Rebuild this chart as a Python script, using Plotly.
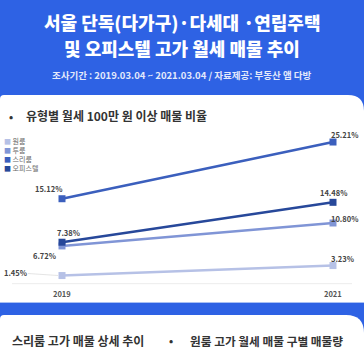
import plotly.graph_objects as go

W = H = 364
FONT = "Noto Sans CJK KR"

# ---- data ----
years = [2019, 2021]
series_names = ["원룸", "투룸", "스리룸", "오피스텔"]
oneroom = [1.45, 3.23]
tworoom = [6.72, 10.80]
threeroom = [15.12, 25.21]
officetel = [7.38, 14.48]
year_labels = ["2019", "2021"]

title1 = "서울 단독(다가구)·다세대 ·연립주택"
title2 = "및 오피스텔 고가 월세 매물 추이"
subtitle = "조사기간 : 2019.03.04 ~ 2021.03.04 / 자료제공: 부동산 앱 다방"
section = "유형별 월세 100만 원 이상 매물 비율"
bottom_left = "스리룸 고가 매물 상세 추이"
bottom_right = "원룸 고가 월세 매물 구별 매물량"

values = [oneroom, tworoom, threeroom, officetel]
colors = ["#b6c1e6", "#8095d6", "#3b5fbd", "#27489a"]
BLUE = "#2e62e4"

# label offsets (px) per series, per point: (xshift, yshift)
offsets = [
    [(-47, 3), (9, 7)],
    [(-18, -10), (11, 5)],
    [(-14, 10), (11, 8)],
    [(6, 10), (0, 10)],
]

# axis geometry
x_px0, x_scale = 62, 135.5
y_px0, y_scale = 283.7, 5.62
xr = [2019 - x_px0 / x_scale, 2019 + (W - x_px0) / x_scale]
yr = [-(H - y_px0) / y_scale, y_px0 / y_scale]


def P(px, py):
    return px / W, 1 - py / H


fig = go.Figure()
for name, vals, col in zip(series_names, values, colors):
    fig.add_trace(go.Scatter(
        x=years, y=vals, mode="lines+markers", name=name,
        line=dict(color=col, width=2.6),
        marker=dict(symbol="square", size=7, color=col),
        showlegend=False, hoverinfo="skip",
    ))

annotations = []


def txt(px, py, text, size, color, xanchor="center", weight="bold"):
    x, y = P(px, py)
    annotations.append(dict(x=x, y=y, xref="paper", yref="paper", text=text,
                            showarrow=False, xanchor=xanchor, yanchor="middle",
                            font=dict(family=FONT, size=size, color=color, weight=weight)))


for vals, col, offs in zip(values, colors, offsets):
    for xv, yv, (dx, dy) in zip(years, vals, offs):
        annotations.append(dict(
            x=xv, y=yv, xref="x", yref="y", text=f"{yv:.2f}%",
            showarrow=False, xshift=dx, yshift=dy, xanchor="center", yanchor="middle",
            font=dict(family=FONT, size=7.5, color="#444444", weight="bold"),
        ))

for yv, lab in zip(years, year_labels):
    annotations.append(dict(
        x=yv, y=-9.3 / y_scale, xref="x", yref="y", text=lab,
        showarrow=False, xanchor="center", yanchor="middle",
        font=dict(family=FONT, size=7.5, color="#555555", weight="bold"),
    ))

# titles
txt(W / 2, 22, title1, 18, "white", weight=900)
txt(W / 2, 48, title2, 18, "white", weight=900)
txt(W / 2, 75, subtitle, 9.5, "#e3e9fb", weight="bold")

txt(7, 116, "•", 11, "#333333", "left")
txt(24, 116, section, 12, "#333333", "left")

# legend
for i, (name, col) in enumerate(zip(series_names, colors)):
    txt(2, 141 + i * 9, f"<span style='color:{col}'>■</span> {name}", 7, "#666666",
        "left", weight="normal")

# bottom texts
txt(10, 340, bottom_left, 12, "#333333", "left")
txt(171, 340, "•", 11, "#333333")
txt(188, 340, bottom_right, 11.7, "#333333", "left")


def path_card(top, bottom, r_right, r_left):
    x0, x1 = 0, W

    def q(px, py):
        a, b = P(px, py)
        return f"{a:.5f},{b:.5f}"
    d = (f"M {q(x0, bottom)} L {q(x0, top + r_left)} Q {q(x0, top)} {q(x0 + r_left, top)} "
         f"L {q(x1 - r_right, top)} Q {q(x1, top)} {q(x1, top + r_right)} L {q(x1, bottom)} Z")
    return d


shapes = [
    dict(type="rect", xref="paper", yref="paper", x0=0, x1=1, y0=0, y1=1,
         fillcolor=BLUE, line=dict(width=0), layer="below"),
    dict(type="path", xref="paper", yref="paper", path=path_card(95, 302, 16, 4),
         fillcolor="white", line=dict(width=0), layer="below"),
    dict(type="path", xref="paper", yref="paper", path=path_card(315, H + 2, 18, 4),
         fillcolor="white", line=dict(width=0), layer="below"),
    dict(type="line", xref="paper", yref="paper",
         x0=0, x1=1, y0=P(0, 302.5)[1], y1=P(0, 302.5)[1],
         line=dict(color="#a9c0f4", width=1.2), layer="below"),
    # baseline
    dict(type="line", xref="paper", yref="y", x0=12 / W, x1=352 / W, y0=0, y1=0,
         line=dict(color="#ececec", width=1), layer="below"),
    # leader line for 1.45% label
    dict(type="line", xref="paper", yref="paper",
         x0=P(28, 273.5)[0], y0=P(28, 273.5)[1], x1=P(58, 275.5)[0], y1=P(58, 275.5)[1],
         line=dict(color="#dddddd", width=0.8), layer="below"),
]

fig.update_layout(
    width=W, height=H, margin=dict(l=0, r=0, t=0, b=0),
    paper_bgcolor=BLUE, plot_bgcolor="rgba(0,0,0,0)",
    xaxis=dict(range=xr, visible=False, fixedrange=True),
    yaxis=dict(range=yr, visible=False, fixedrange=True),
    annotations=annotations, shapes=shapes, showlegend=False,
)

fig.write_html(
    "out.html",
    config={"displayModeBar": False},
    post_script="document.body.style.margin='0';document.body.style.overflow='hidden';",
)
